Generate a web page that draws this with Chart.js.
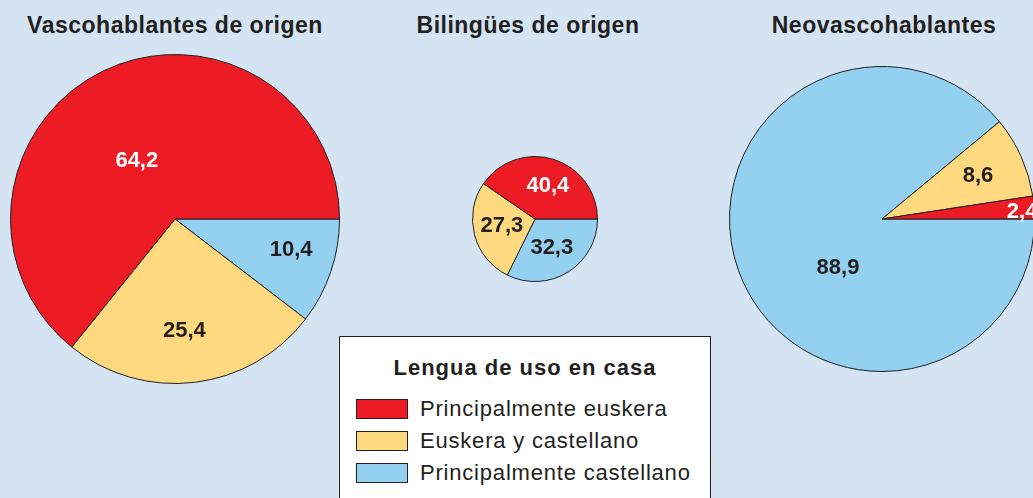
<!DOCTYPE html>
<html>
<head>
<meta charset="utf-8">
<script src="https://cdn.jsdelivr.net/npm/chart.js@4"></script>
<style>
  html, body { margin: 0; padding: 0; }
  body {
    width: 1033px; height: 498px; overflow: hidden; position: relative;
    background: #d5e4f3; font-family: "Liberation Sans", Arial, sans-serif; color: #231f20;
  }
  .title { position: absolute; top: 12px; font-weight: bold; font-size: 23px; letter-spacing: 0.5px; white-space: nowrap; transform: translateX(-50%); }
  canvas { position: absolute; }
  #legend {
    position: absolute; left: 339px; top: 336px; width: 372px; height: 180px;
    background: #fff; border: 1px solid #231f20; box-sizing: border-box;
  }
  #legend h3 { margin: 0; padding-top: 18px; text-align: center; font-size: 22px; letter-spacing: 1px; font-weight: bold; }
  #legend .row { position: absolute; left: 16px; height: 22px; display: flex; align-items: center; font-size: 22px; letter-spacing: 0.8px; white-space: nowrap; }
  #legend .sw { width: 52px; height: 20px; border: 1px solid #231f20; margin-right: 12px; box-sizing: border-box; flex: none; }
</style>
</head>
<body>

<div class="title" style="left:175px">Vascohablantes de origen</div>
<div class="title" style="left:528px">Bilingües de origen</div>
<div class="title" style="left:884px">Neovascohablantes</div>

<canvas id="pieVasco" width="330" height="330" style="left:10px; top:54px"></canvas>
<canvas id="pieBilingue" width="126" height="126" style="left:472px; top:156px"></canvas>
<canvas id="pieNeo" width="306" height="306" style="left:729px; top:66px"></canvas>

<div id="legend"><h3>Lengua de uso en casa</h3></div>

<script>
// Categories in legend order
const categories = ['Principalmente euskera', 'Euskera y castellano', 'Principalmente castellano'];
const colors = ['#ed1c24', '#ffd97f', '#94d1f1'];

// Percentages per group, in category order
const vascoValues = [64.2, 25.4, 10.4];
const bilingueValues = [40.4, 27.3, 32.3];
const neoValues = [2.4, 8.6, 88.9];

const legendTitle = 'Lengua de uso en casa';

// Slices are drawn clockwise from 3 o'clock, castellano first
const drawOrder = [2, 1, 0];

// Label placement per slice (category order): fraction of radius, angle shift in degrees
const vascoLabelPos = [[0.42, -8], [0.68, 2], [0.73, -4]];
const bilingueLabelPos = [[0.57, 4], [0.54, 3], [0.54, 2]];
const neoLabelPos = [[0.92, 1.5], [0.69, 0], [0.43, -28]];

const sliceLabels = {
    id: 'sliceLabels',
    afterDatasetsDraw(chart, args, opts) {
        const ctx = chart.ctx;
        const meta = chart.getDatasetMeta(0);
        ctx.save();
        ctx.font = 'bold 22px "Liberation Sans", Arial, sans-serif';
        ctx.textAlign = 'center';
        ctx.textBaseline = 'middle';
        meta.data.forEach((arc, i) => {
            const cat = drawOrder[i];
            const pos = opts.positions[cat];
            const mid = (arc.startAngle + arc.endAngle) / 2 + pos[1] * Math.PI / 180;
            const x = arc.x + Math.cos(mid) * arc.outerRadius * pos[0];
            const y = arc.y + Math.sin(mid) * arc.outerRadius * pos[0];
            const v = chart.data.datasets[0].data[i];
            ctx.fillStyle = cat === 0 ? '#ffffff' : '#231f20';
            ctx.fillText(v.toFixed(1).replace('.', ','), x, y);
        });
        ctx.restore();
    }
};

function makePie(id, values, labelPos) {
    const ctx = document.getElementById(id).getContext('2d');
    new Chart(ctx, {
        type: 'pie',
        data: {
            labels: drawOrder.map(i => categories[i]),
            datasets: [{
                data: drawOrder.map(i => values[i]),
                backgroundColor: drawOrder.map(i => colors[i]),
                borderColor: '#231f20',
                borderWidth: 1
            }]
        },
        options: {
            responsive: false,
            animation: false,
            rotation: 90,
            layout: { padding: 0 },
            plugins: {
                legend: { display: false },
                tooltip: { enabled: false },
                sliceLabels: { positions: labelPos }
            }
        },
        plugins: [sliceLabels]
    });
}

makePie('pieVasco', vascoValues, vascoLabelPos);
makePie('pieBilingue', bilingueValues, bilingueLabelPos);
makePie('pieNeo', neoValues, neoLabelPos);

// Legend box
const legend = document.getElementById('legend');
legend.querySelector('h3').textContent = legendTitle;
categories.forEach((name, i) => {
    const row = document.createElement('div');
    row.className = 'row';
    row.style.top = (61 + i * 32) + 'px';
    const sw = document.createElement('span');
    sw.className = 'sw';
    sw.style.background = colors[i];
    row.appendChild(sw);
    row.appendChild(document.createTextNode(name));
    legend.appendChild(row);
});
</script>
</body>
</html>
